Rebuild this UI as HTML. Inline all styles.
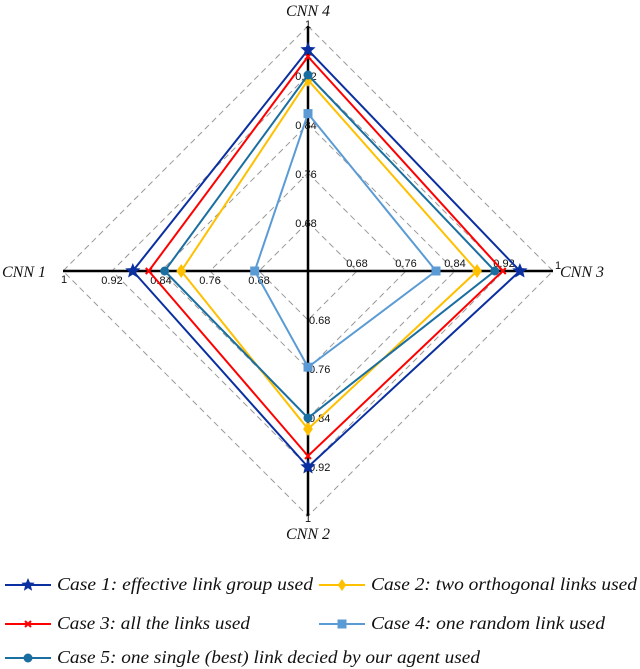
<!DOCTYPE html>
<html><head><meta charset="utf-8"><style>
html,body{margin:0;padding:0;background:#fff;width:640px;height:669px;overflow:hidden}
svg{display:block}
text{font-family:"Liberation Serif",serif}
.tick{font-family:"Liberation Sans",sans-serif;font-size:11px;fill:#111}
.axt{font-style:italic;font-size:16px;fill:#111}
.leg{font-style:italic;font-size:18px;fill:#111}
</style></head><body>
<svg id="chart" width="640" height="669" xmlns="http://www.w3.org/2000/svg">
<g id="grid"></g>
<g id="axes"></g>
<g id="series"></g>
<g id="legend"></g>
</svg>
<script>
const categories = ["CNN 4", "CNN 3", "CNN 2", "CNN 1"];
const tickValues = [0.68, 0.76, 0.84, 0.92, 1];
const tickLabels = ["0.68", "0.76", "0.84", "0.92", "1"];
const case1 = [0.961, 0.946, 0.92, 0.886];
const case2 = [0.912, 0.876, 0.858, 0.807];
const case3 = [0.95, 0.918, 0.902, 0.86];
const case4 = [0.857, 0.809, 0.757, 0.687];
const case5 = [0.92, 0.905, 0.84, 0.834];
const seriesNames = ["Case 1: effective link group used","Case 2: two orthogonal links used","Case 3: all the links used","Case 4: one random link used","Case 5: one single (best) link decied by our agent used"];

const NS="http://www.w3.org/2000/svg";
const cx=308, cy=271, R=245, vmin=0.6, vmax=1;
function rScale(v){return (v-vmin)/(vmax-vmin)*R;}
const dirs=[[0,-1],[1,0],[0,1],[-1,0]];
function pt(i,v){const r=rScale(v);return [cx+dirs[i][0]*r, cy+dirs[i][1]*r];}
function mk(tag,attrs,parent){const e=document.createElementNS(NS,tag);for(const k in attrs)e.setAttribute(k,attrs[k]);parent.appendChild(e);return e;}

const grid=document.getElementById('grid');
tickValues.forEach((t,k)=>{
  const p=categories.map((c,i)=>pt(i,t).join(',')).join(' ');
  const e=mk('polygon',{points:p,fill:'none',stroke:'#999','stroke-width':1,'stroke-dasharray':'6,4'},grid);
  
  
});
const axes=document.getElementById('axes');
categories.forEach((c,i)=>{
  const [x,y]=pt(i,1);
  const l=mk('line',{x1:cx,y1:cy,x2:x,y2:y,stroke:'#000','stroke-width':2.5},axes);
  
  
  tickValues.forEach((t,k)=>{
    const [tx,ty]=pt(i,t);
    let a={class:'tick'};
    if(i===0){a.x=tx-2;a.y=ty+5;a['text-anchor']='middle';if(k===4){a.x=tx;a.y=ty+2;}}
    if(i===1){a.x=tx;a.y=ty-4;a['text-anchor']='middle';if(k===4){a.x=tx+2;a.y=ty-2;a['text-anchor']='start';}}
    if(i===2){a.x=tx+1;a.y=ty+4;a['text-anchor']='start';if(k===4){a.x=tx;a.y=ty+6;a['text-anchor']='middle';}}
    if(i===3){a.x=tx;a.y=ty+13;a['text-anchor']='middle';if(k===4){a.x=tx+1;a.y=ty+12;a['text-anchor']='middle';}}
    const tt=mk('text',a,axes);tt.textContent=tickLabels[k];
    
    
  });
});
const labPos=[[308,16,'middle'],[560,277,'start'],[308,539,'middle'],[2,277,'start']];
categories.forEach((c,i)=>{
  const t=mk('text',{class:'axt',x:labPos[i][0],y:labPos[i][1],'text-anchor':labPos[i][2]},axes);
  t.textContent=c;
  
  
});

const colors=['#0a2fa0','#ffc000','#ff0000','#5b9bd5','#1a6fa0'];
const markers=['star','diamond','x','square','circle'];
const allSeries=[case1,case2,case3,case4,case5];
const drawOrder=[3,1,4,2,0];
function marker(type,x,y,col,parent,s){
  let e;
  if(type==='star'){const pts=[];for(let j=0;j<10;j++){const a=-Math.PI/2+j*Math.PI/5;const r=j%2?s*0.45:s;pts.push((x+r*Math.cos(a)).toFixed(1)+','+(y+r*Math.sin(a)).toFixed(1));}e=mk('polygon',{points:pts.join(' '),fill:col},parent);}
  else if(type==='diamond'){e=mk('polygon',{points:`${x},${y-s} ${x+s*0.7},${y} ${x},${y+s} ${x-s*0.7},${y}`,fill:col},parent);}
  else if(type==='x'){e=mk('path',{d:`M${x-3},${y-3}L${x+3},${y+3}M${x+3},${y-3}L${x-3},${y+3}`,stroke:col,'stroke-width':2},parent);}
  else if(type==='square'){e=mk('rect',{x:x-4.5,y:y-4.5,width:9,height:9,fill:col},parent);}
  else {e=mk('circle',{cx:x,cy:y,r:4.5,fill:col},parent);}
  return e;
}
const sg=document.getElementById('series');
drawOrder.forEach(si=>{
  const vals=allSeries[si];
  const g=mk('g',{},sg);
  
  
  const p=vals.map((v,i)=>pt(i,v).join(',')).join(' ');
  const poly=mk('polygon',{points:p,fill:'none',stroke:colors[si],'stroke-width':2},g);
  
  
  vals.forEach((v,i)=>{const [x,y]=pt(i,v);
    const m=marker(markers[si],x,y,colors[si],g,si===0?8:7);
    
    
  });
});

const lg=document.getElementById('legend');
const legPos=[[5,585,313],[319,585,637],[5,624,250],[319,624,605],[5,658,480]];
[0,1,2,3,4].forEach(si=>{
  const [x,y,end]=legPos[si];
  const g=mk('g',{},lg);
  
  
  mk('line',{x1:x,y1:y,x2:x+46,y2:y,stroke:colors[si],'stroke-width':2},g);
  marker(markers[si],x+23,y,colors[si],g,si===0?7:6);
  const t=mk('text',{class:'leg',x:x+52,y:y+5,textLength:end-x-52,lengthAdjust:'spacingAndGlyphs'},g);
  t.textContent=seriesNames[si];
});
</script>
</body></html>
